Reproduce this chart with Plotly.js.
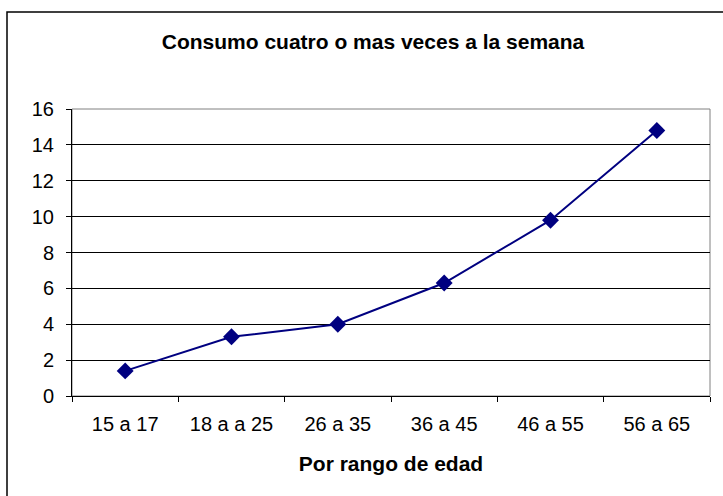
<!DOCTYPE html>
<html>
<head>
<meta charset="utf-8">
<script src="https://cdn.plot.ly/plotly-3.0.1.min.js"></script>
<style>html,body{margin:0;padding:0;background:#fff;}#chart{width:723px;height:496px;}</style>
</head>
<body>
<div id="chart"></div>
<script>
var categories = ["15 a 17", "18 a a 25", "26 a 35", "36 a 45", "46 a 55", "56 a 65"];
var values = [1.4, 3.3, 4.0, 6.3, 9.8, 14.8];
var yTicks = [0, 2, 4, 6, 8, 10, 12, 14, 16];

var font = "Liberation Sans, Arial, sans-serif";
var L = 72, R = 13, T = 109, B = 100, W = 723, H = 496;
var pw = W - L - R, ph = H - T - B;
function px2x(p){ return (p - L) / pw; }
function py2y(p){ return (H - B - p) / ph; }

var trace = {
  x: categories,
  y: values,
  type: "scatter",
  mode: "lines+markers",
  line: {color: "#000080", width: 2},
  marker: {symbol: "diamond", size: 13, color: "#000080"},
  cliponaxis: false,
  hoverinfo: "none"
};

var layout = {
  width: W, height: H,
  margin: {l: L, r: R, t: T, b: B, pad: 0},
  paper_bgcolor: "#ffffff",
  plot_bgcolor: "#ffffff",
  showlegend: false,
  font: {family: font, size: 20, color: "#000"},
  title: {
    text: "<b>Consumo cuatro o mas veces a la semana</b>",
    font: {family: font, size: 21, color: "#000"},
    x: 373 / W, xanchor: "center", xref: "container",
    y: 1 - 42 / H, yanchor: "middle", yref: "container"
  },
  xaxis: {
    type: "category",
    range: [-0.5, 5.5],
    showgrid: false,
    zeroline: false,
    showline: true, linecolor: "#000", linewidth: 1,
    ticks: "outside", tickson: "boundaries", ticklen: 5, tickcolor: "#000", tickwidth: 1,
    ticklabelstandoff: 10,
    tickfont: {family: font, size: 20, color: "#000"},
    title: {text: "<b>Por rango de edad</b>", font: {family: font, size: 21, color: "#000"}, standoff: 22},
    fixedrange: true
  },
  yaxis: {
    range: [0, 16],
    tickvals: yTicks,
    ticktext: yTicks.map(String),
    showgrid: true, gridcolor: "#000", gridwidth: 1,
    zeroline: false,
    showline: true, linecolor: "#000", linewidth: 1,
    ticks: "outside", ticklen: 5, tickcolor: "#000", tickwidth: 1,
    ticklabelstandoff: 8,
    tickfont: {family: font, size: 20, color: "#000"},
    fixedrange: true
  },
  shapes: [
    {type: "rect", xref: "paper", yref: "paper", x0: 0, x1: 1, y0: 0, y1: 1,
     line: {color: "#808080", width: 1}, layer: "below"},
    {type: "rect", xref: "paper", yref: "paper",
     x0: px2x(7), x1: px2x(730), y0: py2y(12), y1: py2y(505),
     line: {color: "#000", width: 1.5}, layer: "above"}
  ]
};

Plotly.newPlot("chart", [trace], layout, {staticPlot: true, displayModeBar: false});
</script>
</body>
</html>
